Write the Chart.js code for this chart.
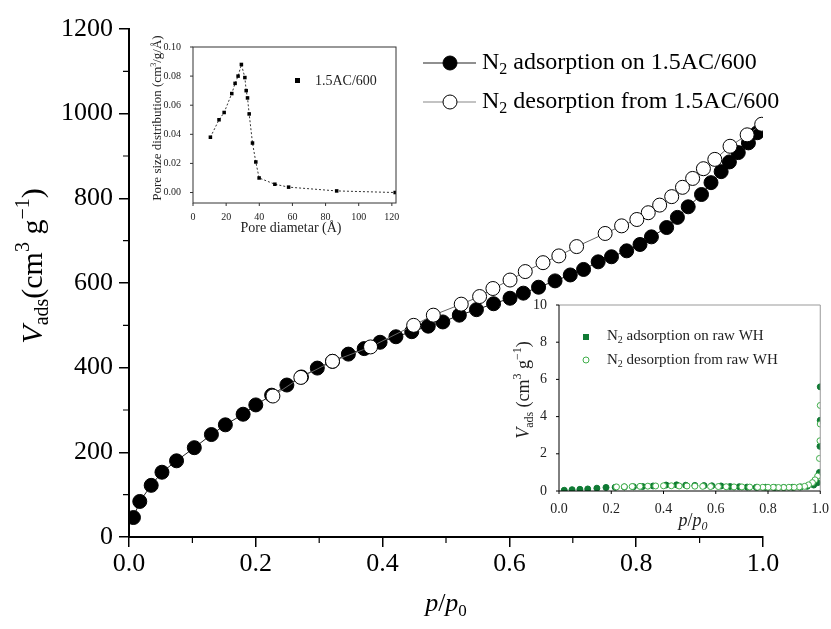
<!DOCTYPE html>
<html>
<head>
<meta charset="utf-8">
<script src="https://cdn.jsdelivr.net/npm/chart.js@4.4.1/dist/chart.umd.min.js"></script>
<style>
  html, body { margin: 0; padding: 0; background: #fff; }
  #wrap { position: relative; width: 831px; height: 629px; }
  canvas { position: absolute; left: 0; top: 0; }
</style>
</head>
<body>
<div id="wrap">
  <canvas id="main" width="831" height="629"></canvas>
  <canvas id="psd" width="831" height="629"></canvas>
  <canvas id="raw" width="831" height="629"></canvas>
</div>
<script>
// main isotherm, 1.5AC/600
const adsP = [0.007, 0.017, 0.035, 0.052, 0.075, 0.103, 0.130, 0.152, 0.180, 0.200, 0.225, 0.249, 0.272, 0.297, 0.321, 0.346, 0.371, 0.396, 0.421, 0.446, 0.472, 0.495, 0.521, 0.548, 0.575, 0.601, 0.622, 0.646, 0.672, 0.696, 0.717, 0.740, 0.761, 0.785, 0.806, 0.824, 0.848, 0.865, 0.882, 0.903, 0.918, 0.934, 0.947, 0.961, 0.977, 0.991];
const adsV = [46, 84, 122, 153, 180, 211, 242, 265, 290, 312, 335, 359, 378, 399, 415, 432, 445, 460, 473, 485, 498, 508, 524, 537, 551, 564, 576, 590, 605, 619, 632, 650, 662, 676, 691, 709, 731, 755, 780, 809, 837, 863, 886, 908, 931, 955];
const desP = [0.998, 0.975, 0.948, 0.924, 0.906, 0.889, 0.873, 0.856, 0.837, 0.819, 0.801, 0.777, 0.751, 0.706, 0.678, 0.653, 0.625, 0.601, 0.574, 0.553, 0.524, 0.480, 0.449, 0.381, 0.321, 0.271, 0.227];
const desV = [975, 950, 923, 892, 870, 847, 826, 804, 784, 766, 750, 735, 717, 686, 664, 648, 627, 607, 587, 568, 550, 524, 500, 449, 415, 377, 333];

// pore size distribution inset
const psdD = [10.5, 15.7, 18.8, 23.4, 25.4, 27.2, 29.2, 31.3, 32.1, 32.9, 33.9, 35.9, 37.9, 39.9, 49.4, 57.7, 86.7, 122];
const psdY = [0.038, 0.050, 0.055, 0.068, 0.075, 0.080, 0.088, 0.079, 0.070, 0.065, 0.054, 0.034, 0.021, 0.010, 0.0057, 0.0037, 0.0011, 0.0];

// raw WH inset
const rawAdsP = [0.02, 0.05, 0.08, 0.11, 0.145, 0.18, 0.215, 0.25, 0.285, 0.32, 0.36, 0.41, 0.45, 0.485, 0.52, 0.555, 0.585, 0.62, 0.655, 0.69, 0.72, 0.755, 0.79, 0.825, 0.86, 0.895, 0.925, 0.95, 0.975, 0.99, 0.997, 0.999, 1.0, 1.0];
const rawAdsV = [0.04, 0.07, 0.09, 0.11, 0.15, 0.19, 0.2, 0.22, 0.23, 0.24, 0.27, 0.32, 0.33, 0.31, 0.3, 0.29, 0.28, 0.27, 0.24, 0.23, 0.21, 0.2, 0.2, 0.19, 0.19, 0.2, 0.22, 0.25, 0.32, 0.45, 1.0, 2.4, 3.8, 5.6];
const rawDesP = [1.0, 1.0, 0.999, 0.997, 0.99, 0.98, 0.97, 0.955, 0.94, 0.92, 0.9, 0.88, 0.86, 0.84, 0.82, 0.8, 0.78, 0.76, 0.73, 0.7, 0.67, 0.64, 0.61, 0.58, 0.55, 0.52, 0.49, 0.46, 0.43, 0.4, 0.37, 0.34, 0.31, 0.28, 0.25, 0.22];
const rawDesV = [4.6, 3.6, 2.7, 1.75, 0.8, 0.6, 0.45, 0.33, 0.25, 0.22, 0.2, 0.2, 0.19, 0.19, 0.2, 0.2, 0.2, 0.2, 0.21, 0.22, 0.22, 0.23, 0.24, 0.24, 0.25, 0.26, 0.27, 0.27, 0.28, 0.28, 0.27, 0.26, 0.25, 0.24, 0.23, 0.22];

const SERIF = '"Liberation Serif", "DejaVu Serif", serif';
const GREEN = "#0f7a34";
const LIGHT_GREEN = "#3fae4a";

const pts = (xs, ys) => xs.map((x, i) => ({ x, y: ys[i] }));

// draws text made of pieces: { t, i (italic), sub, sup }
function drawRich(ctx, parts, x, y, size, opts = {}) {
  ctx.save();
  ctx.translate(x, y);
  if (opts.rotate) ctx.rotate(-Math.PI / 2);
  ctx.fillStyle = opts.color || "#000";
  ctx.textBaseline = "middle";
  ctx.textAlign = "left";
  const fontOf = (p) => `${p.i ? "italic " : ""}${p.sub || p.sup ? Math.round(size * 0.65) : size}px ${SERIF}`;
  let w = 0;
  parts.forEach((p) => { ctx.font = fontOf(p); w += ctx.measureText(p.t).width; });
  let cx = opts.align === "left" ? 0 : -w / 2;
  parts.forEach((p) => {
    ctx.font = fontOf(p);
    const dy = p.sub ? size * 0.3 : p.sup ? -size * 0.35 : 0;
    ctx.fillText(p.t, cx, dy);
    cx += ctx.measureText(p.t).width;
  });
  ctx.restore();
}

function tickMarks(ctx, scale, values, len, dir) {
  ctx.save();
  ctx.strokeStyle = "#000";
  ctx.lineWidth = 1.2;
  ctx.beginPath();
  values.forEach((v) => {
    const p = scale.getPixelForValue(v);
    if (scale.isHorizontal()) {
      const y0 = scale.chart.chartArea.bottom;
      ctx.moveTo(p, y0);
      ctx.lineTo(p, y0 + len * dir);
    } else {
      const x0 = scale.chart.chartArea.left;
      ctx.moveTo(x0, p);
      ctx.lineTo(x0 - len * dir, p);
    }
  });
  ctx.stroke();
  ctx.restore();
}

// ---------- main chart ----------
const mainDecor = {
  id: "mainDecor",
  afterDraw(chart) {
    const ctx = chart.ctx;
    const { x, y } = chart.scales;
    tickMarks(ctx, x, [0.1, 0.3, 0.5, 0.7, 0.9], 6, 1);
    tickMarks(ctx, y, [100, 300, 500, 700, 900, 1100], 6, 1);

    drawRich(ctx, [
      { t: "V", i: true }, { t: "ads", sub: true }, { t: "(cm" }, { t: "3", sup: true },
      { t: " g" }, { t: "\u22121", sup: true }, { t: ")" },
    ], 34, 266, 30, { rotate: true });
    drawRich(ctx, [{ t: "p", i: true }, { t: "/" }, { t: "p", i: true }, { t: "0", sub: true }], 446, 604, 26);

    // legend
    const rows = [
      { y: 63, fill: "#000", line: "#222", text: " adsorption on 1.5AC/600" },
      { y: 102, fill: "#fff", line: "#888", text: " desorption from 1.5AC/600" },
    ];
    rows.forEach((r) => {
      ctx.save();
      ctx.strokeStyle = r.line;
      ctx.lineWidth = 1.2;
      ctx.beginPath();
      ctx.moveTo(423, r.y);
      ctx.lineTo(476, r.y);
      ctx.stroke();
      ctx.beginPath();
      ctx.arc(450, r.y, 7, 0, Math.PI * 2);
      ctx.fillStyle = r.fill;
      ctx.fill();
      ctx.strokeStyle = "#000";
      ctx.lineWidth = 1;
      ctx.stroke();
      ctx.restore();
      drawRich(ctx, [{ t: "N" }, { t: "2", sub: true }, { t: r.text }], 482, r.y, 24, { align: "left" });
    });
  },
};

new Chart(document.getElementById("main"), {
  type: "scatter",
  data: {
    datasets: [
      {
        data: pts(desP, desV),
        showLine: true,
        borderColor: "#666",
        borderWidth: 1,
        pointRadius: 7,
        pointBackgroundColor: "#fff",
        pointBorderColor: "#000",
        pointBorderWidth: 1,
      },
      {
        data: pts(adsP, adsV),
        showLine: true,
        borderColor: "#222",
        borderWidth: 1,
        pointRadius: 7,
        pointBackgroundColor: "#000",
        pointBorderColor: "#000",
        pointBorderWidth: 1,
      },
    ],
  },
  options: {
    responsive: false,
    animation: false,
    devicePixelRatio: 1,
    layout: { padding: { left: 0, top: 29, right: 68, bottom: 0 } },
    plugins: { legend: { display: false }, tooltip: { enabled: false } },
    scales: {
      x: {
        type: "linear", min: 0, max: 1,
        afterFit: (s) => { s.height = 92; },
        ticks: { stepSize: 0.2, color: "#000", padding: 2, font: { family: SERIF, size: 26 }, callback: (v) => v.toFixed(1) },
        grid: { drawOnChartArea: false, tickLength: 10, color: "#000", lineWidth: 1.5 },
        border: { color: "#000", width: 2 },
      },
      y: {
        type: "linear", min: 0, max: 1200,
        afterFit: (s) => { s.width = 129; },
        ticks: { stepSize: 200, color: "#000", padding: 6, font: { family: SERIF, size: 26 }, callback: (v) => String(v) },
        grid: { drawOnChartArea: false, tickLength: 10, color: "#000", lineWidth: 1.5 },
        border: { color: "#000", width: 2 },
      },
    },
  },
  plugins: [mainDecor],
});

// ---------- pore size inset ----------
const psdDecor = {
  id: "psdDecor",
  afterDraw(chart) {
    const ctx = chart.ctx;
    const a = chart.chartArea;
    const { x, y } = chart.scales;
    ctx.save();
    ctx.strokeStyle = "#333";
    ctx.lineWidth = 1;
    ctx.strokeRect(a.left, a.top, a.right - a.left, a.bottom - a.top);
    ctx.beginPath();
    [0, 20, 40, 60, 80, 100, 120].forEach((v) => {
      const p = x.getPixelForValue(v);
      ctx.moveTo(p, a.bottom); ctx.lineTo(p, a.bottom + 3);
    });
    [0, 0.02, 0.04, 0.06, 0.08, 0.1].forEach((v) => {
      const p = y.getPixelForValue(v);
      ctx.moveTo(a.left, p); ctx.lineTo(a.left - 3, p);
    });
    ctx.stroke();
    ctx.fillStyle = "#000";
    ctx.fillRect(295, 78, 5, 5);
    ctx.restore();
    drawRich(ctx, [{ t: "1.5AC/600" }], 315, 81, 14, { align: "left", color: "#222" });
    drawRich(ctx, [{ t: "Pore size distribution (cm" }, { t: "3", sup: true }, { t: "/g/\u00c5)" }], 158, 118, 13, { rotate: true, color: "#222" });
    drawRich(ctx, [{ t: "Pore diametar (\u00c5)" }], 291, 228, 14, { color: "#222" });
  },
};

new Chart(document.getElementById("psd"), {
  type: "scatter",
  data: {
    datasets: [{
      data: pts(psdD, psdY),
      showLine: true,
      borderColor: "#333",
      borderWidth: 1,
      borderDash: [2, 2],
      pointStyle: "rect",
      pointRadius: 2.5,
      pointBackgroundColor: "#000",
      pointBorderColor: "#000",
      pointBorderWidth: 0,
    }],
  },
  options: {
    responsive: false,
    animation: false,
    devicePixelRatio: 1,
    layout: { padding: { left: 153, top: 47, right: 435, bottom: 396 } },
    plugins: { legend: { display: false }, tooltip: { enabled: false } },
    scales: {
      x: {
        type: "linear", min: 0, max: 122.5,
        afterFit: (s) => { s.height = 30; },
        ticks: { stepSize: 20, includeBounds: false, color: "#222", padding: 0, font: { family: SERIF, size: 10 } },
        grid: { display: false },
        border: { display: false },
      },
      y: {
        type: "linear", min: -0.0072, max: 0.1,
        afterFit: (s) => { s.width = 40; },
        ticks: { stepSize: 0.02, includeBounds: false, color: "#222", padding: 4, font: { family: SERIF, size: 10 }, callback: (v) => (Math.round(v * 100) / 100).toFixed(2) },
        grid: { display: false },
        border: { display: false },
      },
    },
  },
  plugins: [psdDecor],
});

// ---------- raw WH inset ----------
const rawDecor = {
  id: "rawDecor",
  afterDraw(chart) {
    const ctx = chart.ctx;
    const a = chart.chartArea;
    const { x, y } = chart.scales;
    ctx.save();
    ctx.strokeStyle = "#999";
    ctx.lineWidth = 1;
    ctx.beginPath();
    ctx.moveTo(a.left, a.top); ctx.lineTo(a.right, a.top); ctx.lineTo(a.right, a.bottom);
    ctx.stroke();
    ctx.strokeStyle = "#000";
    ctx.beginPath();
    ctx.moveTo(a.left, a.top); ctx.lineTo(a.left, a.bottom); ctx.lineTo(a.right, a.bottom);
    [0, 0.2, 0.4, 0.6, 0.8, 1.0].forEach((v) => {
      const p = x.getPixelForValue(v);
      ctx.moveTo(p, a.bottom); ctx.lineTo(p, a.bottom + 3);
    });
    [0, 2, 4, 6, 8, 10].forEach((v) => {
      const p = y.getPixelForValue(v);
      ctx.moveTo(a.left, p); ctx.lineTo(a.left - 3, p);
    });
    ctx.stroke();
    ctx.fillStyle = GREEN;
    ctx.fillRect(583, 334, 6, 6);
    ctx.beginPath();
    ctx.arc(586, 360, 3, 0, Math.PI * 2);
    ctx.strokeStyle = LIGHT_GREEN;
    ctx.stroke();
    ctx.restore();
    drawRich(ctx, [{ t: "N" }, { t: "2", sub: true }, { t: " adsorption on raw WH" }], 607, 336, 15, { align: "left", color: "#222" });
    drawRich(ctx, [{ t: "N" }, { t: "2", sub: true }, { t: " desorption from raw WH" }], 607, 360, 15, { align: "left", color: "#222" });
    drawRich(ctx, [
      { t: "V", i: true }, { t: "ads", sub: true }, { t: " (cm" }, { t: "3", sup: true },
      { t: " g" }, { t: "\u22121", sup: true }, { t: ")" },
    ], 524, 390, 18, { rotate: true, color: "#222" });
    drawRich(ctx, [{ t: "p", i: true }, { t: "/" }, { t: "p", i: true }, { t: "0", sub: true, i: true }], 693, 521, 18, { color: "#222" });
  },
};

new Chart(document.getElementById("raw"), {
  type: "scatter",
  data: {
    datasets: [
      {
        data: pts(rawDesP, rawDesV),
        pointRadius: 3,
        pointBackgroundColor: "#fff",
        pointBorderColor: LIGHT_GREEN,
        pointBorderWidth: 1,
      },
      {
        data: pts(rawAdsP, rawAdsV),
        pointRadius: 3,
        pointBackgroundColor: GREEN,
        pointBorderColor: GREEN,
        pointBorderWidth: 1,
      },
    ],
  },
  options: {
    responsive: false,
    animation: false,
    devicePixelRatio: 1,
    layout: { padding: { left: 514, top: 305, right: 10, bottom: 108 } },
    plugins: { legend: { display: false }, tooltip: { enabled: false } },
    scales: {
      x: {
        type: "linear", min: 0, max: 1,
        afterFit: (s) => { s.height = 30; },
        ticks: { stepSize: 0.2, color: "#222", padding: 2, font: { family: SERIF, size: 14 }, callback: (v) => v.toFixed(1) },
        grid: { display: false },
        border: { display: false },
      },
      y: {
        type: "linear", min: 0, max: 10,
        afterFit: (s) => { s.width = 45; },
        ticks: { stepSize: 2, color: "#222", padding: 4, font: { family: SERIF, size: 14 } },
        grid: { display: false },
        border: { display: false },
      },
    },
  },
  plugins: [rawDecor],
});
</script>
</body>
</html>
